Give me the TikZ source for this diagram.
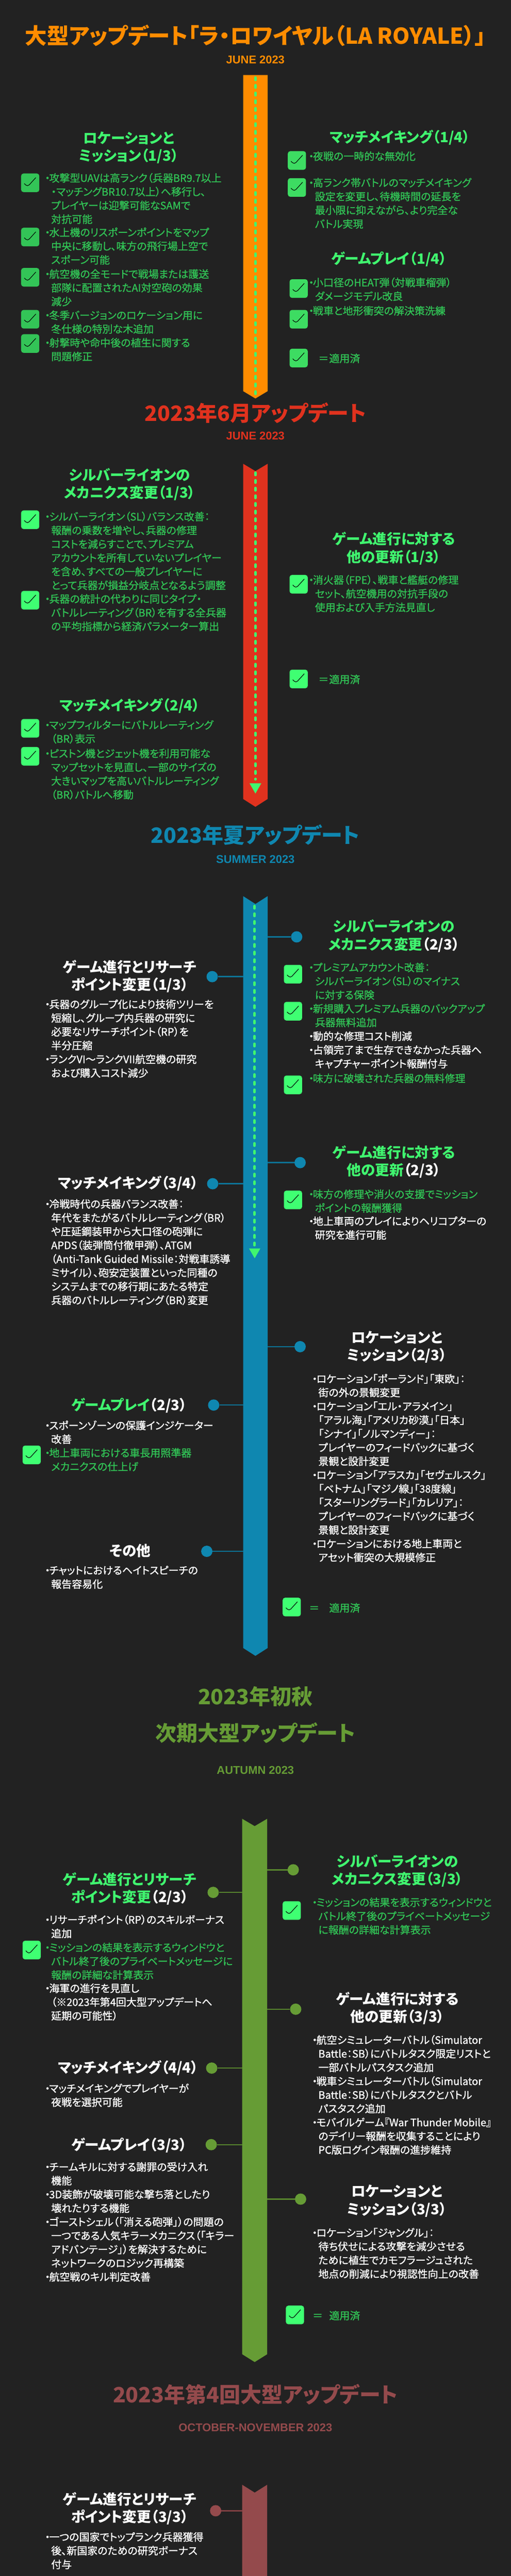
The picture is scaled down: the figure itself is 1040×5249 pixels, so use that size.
\documentclass[tikz,border=0pt]{standalone}
\usepackage{fontspec}
\setmainfont{Noto Sans CJK JP}[RawFeature=+palt,FakeBold=1.2]
\newfontfamily\hdface{Noto Sans CJK JP}[RawFeature=+palt]
\newfontfamily\subfont{Liberation Sans}
\usetikzlibrary{positioning}
\definecolor{bgdark}{HTML}{222222}
\definecolor{barorange}{HTML}{FF8C00}
\definecolor{barred}{HTML}{E0321E}
\definecolor{barblue}{HTML}{0F87B0}
\definecolor{bargreen}{HTML}{669C35}
\definecolor{barmaroon}{HTML}{944A4C}
\definecolor{greenH}{HTML}{40F56F}
\definecolor{greenT}{HTML}{31C255}
\definecolor{ckdim}{HTML}{33C457}
\definecolor{ckmid}{HTML}{3DDC62}
\definecolor{ckhi}{HTML}{3FFF72}
\newcommand{\hdfont}{\hdface\bfseries\fontsize{29}{36}\selectfont}
\newcommand{\bodyfont}{\fontsize{21}{28}\selectfont}
\newcommand{\bul}{\makebox[7pt][c]{・}}
\newcommand{\ind}{\hspace*{11pt}}
\newcommand{\wf}[1]{\textcolor{white}{#1}}
\tikzset{
  hd/.style={anchor=north,inner sep=0pt,align=center,yshift=14pt,font=\hdfont,text=#1,execute at begin node=\strut},
  hd/.default=greenH,
  txt/.style={anchor=north west,inner sep=0pt,align=left,yshift=11.6pt,font=\bodyfont,text=#1,execute at begin node=\strut},
  txt/.default=white,
  maintitle/.style={anchor=base,inner sep=0pt,yshift=-16pt,font=\hdface\bfseries\fontsize{44.6}{50}\selectfont,text=#1},
  sectitle/.style={anchor=base,inner sep=0pt,yshift=-16.5pt,font=\hdface\bfseries\fontsize{43}{52}\selectfont,text=#1},
  subtitle/.style={anchor=base,inner sep=0pt,yshift=-8.4pt,font=\subfont\bfseries\fontsize{23}{28}\selectfont,text=#1},
  chkbox/.style={rounded corners=5pt,fill=#1,minimum width=37pt,minimum height=38pt,inner sep=0pt,
    path picture={\draw[line width=1.1pt,black] ([shift={(-12,1.5)}]path picture bounding box.center)
      -- ([shift={(-5.5,8)}]path picture bounding box.center) -- ([shift={(11.5,-10.7)}]path picture bounding box.center);}},
  chkbox/.default=ckhi,
  dot/.style={circle,fill=#1,minimum size=23pt,inner sep=0pt},
  link/.style={draw=#1!85!black,line width=2.5pt},
  dashline/.style={draw=greenH,line width=5pt,line cap=round,dash pattern=on 5pt off 10.6pt}
}
\begin{document}
\begin{tikzpicture}[x=1pt,y=-1pt]
  \fill[bgdark] (0,0) rectangle (1040,5249);
  \useasboundingbox (0,0) rectangle (1040,5249);

  % La Royale
  \node[maintitle=barorange] (tt1) at (520,74) {大型アップデート「ラ・ロワイヤル（LA ROYALE）」};
  \node[subtitle=barorange] (st1) at (520,121) {JUNE 2023};
  \fill[barorange] (495,153) -- (545,153) -- (545,797) -- (520,812) -- (495,797) -- cycle;
  \coordinate (ds1a) at (520,158);
  \coordinate (ds1b) at (520,808);
  \draw[dashline] (ds1a) -- (ds1b);

  \node[hd] (hd1a) at (262,282) {ロケーションと\\ミッション（1/3）};
  \node[chkbox=ckdim] (ck1a) at (61.5,372.5) {};
  \node[txt=greenT] (tx1a) at (93,364) {\bul 攻撃型UAVは高ランク（兵器BR9.7以上\\\ind ・マッチングBR10.7以上）へ移行し、\\\ind プレイヤーは迎撃可能なSAMで\\\ind 対抗可能};
  \node[chkbox=ckdim] (ck1b) at (61.5,483) {};
  \node[txt=greenT] (tx1b) at (93,475) {\bul 水上機のリスポーンポイントをマップ\\\ind 中央に移動し、味方の飛行場上空で\\\ind スポーン可能};
  \node[chkbox=ckdim] (ck1c) at (61.5,565) {};
  \node[txt=greenT] (tx1c) at (93,560) {\bul 航空機の全モードで戦場または護送\\\ind 部隊に配置されたAI対空砲の効果\\\ind 減少};
  \node[chkbox=ckdim] (ck1d) at (61.5,650.5) {};
  \node[txt=greenT] (tx1d) at (93,644) {\bul 冬季バージョンのロケーション用に\\\ind 冬仕様の特別な木追加};
  \node[chkbox=ckdim] (ck1e) at (61.5,700) {};
  \node[txt=greenT] (tx1e) at (93,700) {\bul 射撃時や命中後の植生に関する\\\ind 問題修正};

  \node[hd] (hd1b) at (814,279) {マッチメイキング（1/4）};
  \node[chkbox=ckmid] (ck1f) at (604.5,327) {};
  \node[txt=greenT] (tx1f) at (630,318) {\bul 夜戦の一時的な無効化};
  \node[chkbox=ckmid] (ck1g) at (604.5,382) {};
  \node[txt=greenT] (tx1g) at (630,374) {\bul 高ランク帯バトルのマッチメイキング\\\ind 設定を変更し、待機時間の延長を\\\ind 最小限に抑えながら、より完全な\\\ind バトル実現};
  \node[hd] (hd1c) at (792,527) {ゲームプレイ（1/4）};
  \node[chkbox=ckmid] (ck1h) at (608,588) {};
  \node[txt=greenT] (tx1h) at (630,577) {\bul 小口径のHEAT弾（対戦車榴弾）\\\ind ダメージモデル改良};
  \node[chkbox=ckmid] (ck1i) at (608,650.5) {};
  \node[txt=greenT] (tx1i) at (630,633) {\bul 戦車と地形衝突の解決策洗練};
  \node[chkbox=ckmid] (lg1) at (608,729.5) {};
  \node[txt=greenT] (lg1e) at (648,730) {＝};
  \node[txt=greenT] (lg1t) at (670,730) {適用済};

  % June update
  \node[sectitle=barred] (tt2) at (520,842) {2023年6月アップデート};
  \node[subtitle=barred] (st2) at (520,888) {JUNE 2023};
  \fill[barred] (495,945) -- (520,960) -- (545,945) -- (545,1628) -- (520,1644) -- (495,1628) -- cycle;
  \coordinate (ds2a) at (520,963);
  \coordinate (ds2b) at (520,1588);
  \draw[dashline] (ds2a) -- (ds2b);
  \fill[greenH] (508,1596) -- (532,1596) -- (520,1617) -- cycle;

  \node[hd] (hd2a) at (264,968) {シルバーライオンの\\メカニクス変更（1/3）};
  \node[chkbox] (ck2a) at (61.5,1059) {};
  \node[txt=greenT] (tx2a) at (93,1054) {\bul シルバーライオン（SL）バランス改善：\\\ind 報酬の乗数を増やし、兵器の修理\\\ind コストを減らすことで、プレミアム\\\ind アカウントを所有していないプレイヤー\\\ind を含め、すべての一般プレイヤーに\\\ind とって兵器が損益分岐点となるよう調整};
  \node[chkbox] (ck2b) at (61.5,1223) {};
  \node[txt=greenT] (tx2b) at (93,1222) {\bul 兵器の統計の代わりに同じタイプ・\\\ind バトルレーティング（BR）を有する全兵器\\\ind の平均指標から経済パラメーター算出};

  \node[hd] (hd2b) at (802,1098) {ゲーム進行に対する\\他の更新（1/3）};
  \node[chkbox] (ck2c) at (608,1190.5) {};
  \node[txt=greenT] (tx2c) at (630,1183) {\bul 消火器（FPE）、戦車と艦艇の修理\\\ind セット、航空機用の対抗手段の\\\ind 使用および入手方法見直し};
  \node[chkbox] (lg2) at (608,1383.5) {};
  \node[txt=greenT] (lg2e) at (648,1384) {＝};
  \node[txt=greenT] (lg2t) at (670,1384) {適用済};

  \node[hd] (hd2c) at (264,1437) {マッチメイキング（2/4）};
  \node[chkbox] (ck2d) at (61.5,1484) {};
  \node[txt=greenT] (tx2d) at (93,1479) {\bul マップフィルターにバトルレーティング\\\ind （BR）表示};
  \node[chkbox] (ck2e) at (61.5,1541) {};
  \node[txt=greenT] (tx2e) at (93,1537) {\bul ピストン機とジェット機を利用可能な\\\ind マップセットを見直し、一部のサイズの\\\ind 大きいマップを高いバトルレーティング\\\ind （BR）バトルへ移動};

  % Summer update
  \node[sectitle=barblue] (tt3) at (520,1702) {2023年夏アップデート};
  \node[subtitle=barblue] (st3) at (520,1750) {SUMMER 2023};
  \fill[barblue] (495,1826) -- (520,1842) -- (545,1826) -- (545,3358) -- (520,3374) -- (495,3358) -- cycle;
  \coordinate (bar3l) at (495,1826);
  \coordinate (bar3r) at (545,1826);
  \coordinate (ds3a) at (518,1846);
  \coordinate (ds3b) at (518,2538);
  \draw[dashline] (ds3a) -- (ds3b);
  \fill[greenH] (507,2544) -- (530,2544) -- (518.5,2564) -- cycle;

  \node[dot=barblue] (dt3a) at (604,1909) {};
  \draw[link=barblue] (dt3a.west) -- (dt3a.west -| bar3r);
  \node[hd] (hd3a) at (802,1888) {シルバーライオンの\\メカニクス変更\wf{（2/3）}};
  \node[chkbox] (ck3a) at (596.5,1985) {};
  \node[txt=greenT] (tx3a) at (630,1973) {\bul プレミアムアカウント改善：\\\ind シルバーライオン（SL）のマイナス\\\ind に対する保険};
  \node[chkbox] (ck3b) at (596.5,2060.5) {};
  \node[txt=greenT] (tx3b) at (630,2057) {\bul 新規購入プレミアム兵器のバックアップ\\\ind 兵器無料追加};
  \node[txt] (tx3c) at (630,2113) {\bul 動的な修理コスト削減\\\bul 占領完了まで生存できなかった兵器へ\\\ind キャプチャーポイント報酬付与};
  \node[chkbox] (ck3d) at (596.5,2210.5) {};
  \node[txt=greenT] (tx3d) at (630,2197) {\bul 味方に破壊された兵器の無料修理};

  \node[dot=barblue] (dt3b) at (432,1990) {};
  \draw[link=barblue] (dt3b.east) -- (dt3b.east -| bar3l);
  \node[hd=white] (hd3b) at (264,1970) {ゲーム進行とリサーチ\\ポイント変更（1/3）};
  \node[txt] (tx3e) at (93,2048) {\bul 兵器のグループ化により技術ツリーを\\\ind 短縮し、グループ内兵器の研究に\\\ind 必要なリサーチポイント（RP）を\\\ind 半分圧縮\\\bul ランクVI～ランクVII航空機の研究\\\ind および購入コスト減少};

  \node[dot=barblue] (dt3c) at (611,2369) {};
  \draw[link=barblue] (dt3c.west) -- (dt3c.west -| bar3r);
  \node[hd] (hd3c) at (802,2348) {ゲーム進行に対する\\他の更新\wf{（2/3）}};
  \node[chkbox] (ck3f) at (596.5,2445) {};
  \node[txt=greenT] (tx3f) at (630,2435) {\bul 味方の修理や消火の支援でミッション\\\ind ポイントの報酬獲得};
  \node[txt] (tx3g) at (630,2490) {\bul 地上車両のプレイによりヘリコプターの\\\ind 研究を進行可能};

  \node[dot=barblue] (dt3d) at (433,2412) {};
  \draw[link=barblue] (dt3d.east) -- (dt3d.east -| bar3l);
  \node[hd=white] (hd3d) at (261,2410) {マッチメイキング（3/4）};
  \node[txt] (tx3h) at (93,2455) {\bul 冷戦時代の兵器バランス改善：\\\ind 年代をまたがるバトルレーティング（BR）\\\ind や圧延鋼装甲から大口径の砲弾に\\\ind APDS（装弾筒付徹甲弾）、ATGM\\\ind （Anti-Tank Guided Missile：対戦車誘導\\\ind ミサイル）、砲安定装置といった同種の\\\ind システムまでの移行期にあたる特定\\\ind 兵器のバトルレーティング（BR）変更};

  \node[dot=barblue] (dt3e) at (611,2744) {};
  \draw[link=barblue] (dt3e.west) -- (dt3e.west -| bar3r);
  \node[hd=white] (hd3e) at (808,2726) {ロケーションと\\ミッション（2/3）};
  \node[txt] (tx3i) at (637,2811) {\bul ロケーション「ポーランド」「東欧」：\\\ind 街の外の景観変更\\\bul ロケーション「エル・アラメイン」\\\ind 「アラル海」「アメリカ砂漠」「日本」\\\ind 「シナイ」「ノルマンディー」：\\\ind プレイヤーのフィードバックに基づく\\\ind 景観と設計変更\\\bul ロケーション「アラスカ」「セヴェルスク」\\\ind 「ベトナム」「マジノ線」「38度線」\\\ind 「スターリングラード」「カレリア」：\\\ind プレイヤーのフィードバックに基づく\\\ind 景観と設計変更\\\bul ロケーションにおける地上車両と\\\ind アセット衝突の大規模修正};

  \node[dot=barblue] (dt3f) at (435,2863) {};
  \draw[link=barblue] (dt3f.east) -- (dt3f.east -| bar3l);
  \node[hd] (hd3f) at (263,2862) {ゲームプレイ\wf{（2/3）}};
  \node[txt] (tx3j) at (93,2906) {\bul スポーンゾーンの保護インジケーター\\\ind 改善};
  \node[chkbox] (ck3g) at (64.5,2964.5) {};
  \node[txt=greenT] (tx3k) at (93,2962) {\bul 地上車両における車長用照準器\\\ind メカニクスの仕上げ};

  \node[dot=barblue] (dt3g) at (421,3161) {};
  \draw[link=barblue] (dt3g.east) -- (dt3g.east -| bar3l);
  \node[hd=white] (hd3g) at (265,3159) {その他};
  \node[txt] (tx3l) at (93,3202) {\bul チャットにおけるヘイトスピーチの\\\ind 報告容易化};
  \node[chkbox] (lg3) at (594,3274.5) {};
  \node[txt=greenT] (lg3e) at (629,3276) {＝};
  \node[txt=greenT] (lg3t) at (670,3276) {適用済};

  % Autumn update
  \node[sectitle=bargreen] (tt4a) at (520,3457) {2023年初秋};
  \node[sectitle=bargreen] (tt4b) at (520,3531) {次期大型アップデート};
  \node[subtitle=bargreen] (st4) at (520,3607) {AUTUMN 2023};
  \fill[bargreen] (493,3706) -- (518.5,3721) -- (544,3706) -- (544,4797) -- (518.5,4813) -- (493,4797) -- cycle;
  \coordinate (bar4l) at (493,3706);
  \coordinate (bar4r) at (544,3706);

  \node[dot=bargreen] (dt4a) at (597,3810) {};
  \draw[link=bargreen] (dt4a.west) -- (dt4a.west -| bar4r);
  \node[hd] (hd4a) at (809,3793) {シルバーライオンの\\メカニクス変更（3/3）};
  \node[chkbox] (ck4a) at (594,3893) {};
  \node[txt=greenT] (tx4a) at (637,3878) {\bul ミッションの結果を表示するウィンドウと\\\ind バトル終了後のプライベートメッセージ\\\ind に報酬の詳細な計算表示};

  \node[dot=bargreen] (dt4b) at (434,3856) {};
  \draw[link=bargreen] (dt4b.east) -- (dt4b.east -| bar4l);
  \node[hd] (hd4b) at (264,3829) {ゲーム進行とリサーチ\\ポイント変更\wf{（2/3）}};
  \node[txt] (tx4b) at (93,3913) {\bul リサーチポイント（RP）のスキルボーナス\\\ind 追加};
  \node[chkbox] (ck4b) at (64.5,3973.5) {};
  \node[txt=greenT] (tx4c) at (93,3970) {\bul ミッションの結果を表示するウィンドウと\\\ind バトル終了後のプライベートメッセージに\\\ind 報酬の詳細な計算表示};
  \node[txt] (tx4d) at (93,4053) {\bul 海軍の進行を見直し\\\ind （※2023年第4回大型アップデートへ\\\ind 延期の可能性）};

  \node[dot=bargreen] (dt4c) at (602,4094) {};
  \draw[link=bargreen] (dt4c.west) -- (dt4c.west -| bar4r);
  \node[hd=white] (hd4c) at (809,4073) {ゲーム進行に対する\\他の更新（3/3）};
  \node[txt] (tx4e) at (637,4158) {\bul 航空シミュレーターバトル（Simulator\\\ind Battle：SB）にバトルタスク限定リストと\\\ind 一部バトルパスタスク追加\\\bul 戦車シミュレーターバトル（Simulator\\\ind Battle：SB）にバトルタスクとバトル\\\ind パスタスク追加\\\bul モバイルゲーム『War Thunder Mobile』\\\ind のデイリー報酬を収集することにより\\\ind PC版ログイン報酬の進捗維持};

  \node[dot=bargreen] (dt4d) at (431,4214) {};
  \draw[link=bargreen] (dt4d.east) -- (dt4d.east -| bar4l);
  \node[hd=white] (hd4d) at (261,4212) {マッチメイキング（4/4）};
  \node[txt] (tx4f) at (93,4257) {\bul マッチメイキングでプレイヤーが\\\ind 夜戦を選択可能};

  \node[dot=bargreen] (dt4e) at (430,4370) {};
  \draw[link=bargreen] (dt4e.east) -- (dt4e.east -| bar4l);
  \node[hd=white] (hd4e) at (263,4370) {ゲームプレイ（3/3）};
  \node[txt] (tx4g) at (93,4417) {\bul チームキルに対する謝罪の受け入れ\\\ind 機能\\\bul 3D装飾が破壊可能な撃ち落としたり\\\ind 壊れたりする機能\\\bul ゴーストシェル（「消える砲弾」）の問題の\\\ind 一つである人気キラーメカニクス（「キラー\\\ind アドバンテージ」）を解決するために\\\ind ネットワークのロジック再構築\\\bul 航空戦のキル判定改善};

  \node[dot=bargreen] (dt4f) at (612,4481) {};
  \draw[link=bargreen] (dt4f.west) -- (dt4f.west -| bar4r);
  \node[hd=white] (hd4f) at (808,4466) {ロケーションと\\ミッション（3/3）};
  \node[txt] (tx4h) at (637,4551) {\bul ロケーション「ジャングル」：\\\ind 待ち伏せによる攻撃を減少させる\\\ind ために植生でカモフラージュされた\\\ind 地点の削減により視認性向上の改善};
  \node[chkbox] (lg4) at (600.5,4717) {};
  \node[txt=greenT] (lg4e) at (636,4718) {＝};
  \node[txt=greenT] (lg4t) at (670,4718) {適用済};

  % Fourth major update
  \node[sectitle=barmaroon] (tt5) at (520,4879) {2023年第4回大型アップデート};
  \node[subtitle=barmaroon] (st5) at (520,4946) {OCTOBER-NOVEMBER 2023};
  \fill[barmaroon] (493,5063) -- (518.5,5079) -- (544,5063) -- (544,5249) -- (493,5249) -- cycle;
  \coordinate (bar5l) at (493,5063);

  \node[dot=barmaroon] (dt5a) at (439,5116) {};
  \draw[link=barmaroon] (dt5a.east) -- (dt5a.east -| bar5l);
  \node[hd=white] (hd5a) at (264,5092) {ゲーム進行とリサーチ\\ポイント変更（3/3）};
  \node[txt] (tx5a) at (93,5171) {\bul 一つの国家でトップランク兵器獲得\\\ind 後、新国家のための研究ボーナス\\\ind 付与};
\end{tikzpicture}
\end{document}
